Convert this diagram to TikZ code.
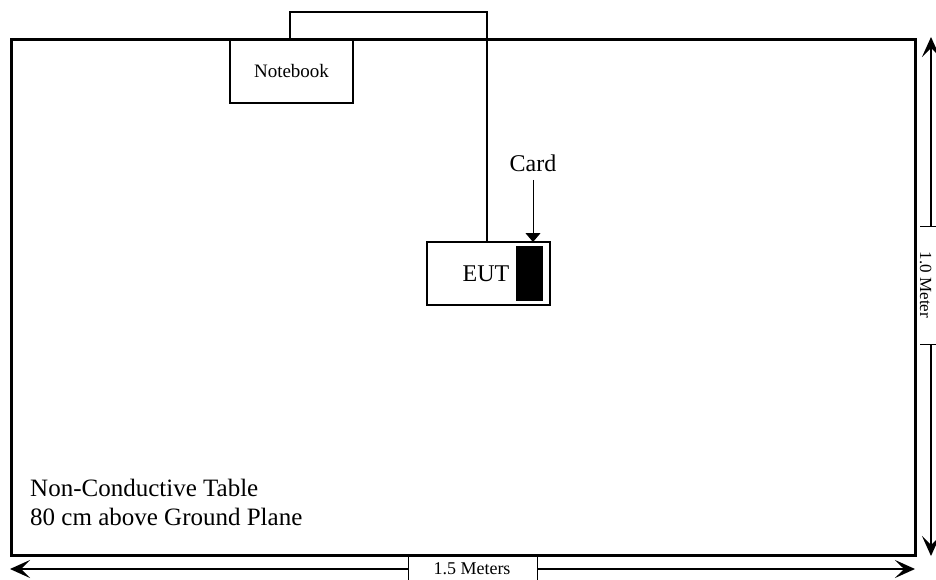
\documentclass[tikz,border=0pt]{standalone}
\usepackage{fontspec}
\setmainfont{Liberation Serif}
\usetikzlibrary{arrows.meta}
\begin{document}
\begin{tikzpicture}[x=1pt,y=-1pt,
  box/.style={draw, line width=1.5pt, inner sep=0pt},
  dimarrow/.style={line width=1.8pt, -{Stealth[length=20pt,width=18pt,inset=9pt]}},
  tick/.style={line width=1pt},
  cable/.style={line width=1.5pt}]
\useasboundingbox[fill=white] (0,0) rectangle (936,580);
% table
\node[draw, line width=3pt, inner sep=0pt, minimum width=904pt, minimum height=516pt, anchor=north west] (table) at (10,38) {};
% notebook
\node[box, fill=white, minimum width=123pt, minimum height=63pt, font=\fontsize{19}{22}\selectfont] (nb) at (291.5,71.5) {Notebook};
% EUT
\node[box, minimum width=123pt, minimum height=63pt] (eut) at (488.5,273.5) {};
\node[fill=black, inner sep=0pt, minimum width=27pt, minimum height=55pt] (card) at (529.5,273.5) {};
\node[font=\fontsize{24}{28}\selectfont, inner sep=0pt] (eutlbl) at (486,274) {EUT};
% card label
\node[font=\fontsize{24}{28}\selectfont, inner sep=0pt] (cardlbl) at (533,163) {Card};
\coordinate (cardtop) at (533,180);
\coordinate (cardtip) at (533,242);
\draw[line width=1pt, -{Triangle[length=9pt,width=15pt]}] (cardtop) -- (cardtip);
% cable
\coordinate (c1) at (290,40);
\coordinate (c2) at (290,12);
\coordinate (c3) at (487,12);
\draw[cable] (c1) -- (c2) -- (c3) -- (eut.north -| c3);
% table text
\node[font=\fontsize{25}{29}\selectfont, anchor=base west, inner sep=0pt] (t1) at (30,496) {Non-Conductive Table};
\node[font=\fontsize{25}{29}\selectfont, anchor=base west, inner sep=0pt] (t2) at (30,525) {80 cm above Ground Plane};
% bottom dimension
\node[font=\fontsize{18}{20}\selectfont, inner sep=0pt] (wlbl) at (472,569) {1.5 Meters};
\coordinate (bl) at (408,569);
\coordinate (br) at (537,569);
\coordinate (bleft) at (10,569);
\coordinate (bright) at (915,569);
\draw[tick] (408,557) -- (408,580);
\draw[tick] (537,557) -- (537,580);
\draw[dimarrow] (bl) -- (bleft);
\draw[dimarrow] (br) -- (bright);
% right dimension
\node[font=\fontsize{17}{20}\selectfont, inner sep=0pt, rotate=-90, anchor=base] (hlbl) at (920,285) {1.0 Meter};
\coordinate (rt) at (931,226);
\coordinate (rb) at (931,344);
\coordinate (rtop) at (931,37);
\coordinate (rbot) at (931,556);
\draw[tick] (920,226) -- (936,226);
\draw[tick] (920,344) -- (936,344);
\draw[dimarrow] (rt) -- (rtop);
\draw[dimarrow] (rb) -- (rbot);
\end{tikzpicture}
\end{document}
